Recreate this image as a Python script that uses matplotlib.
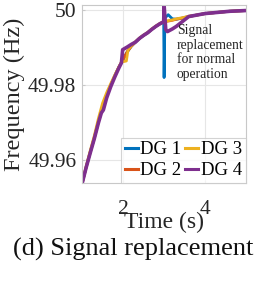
import matplotlib.pyplot as plt

plt.rcParams['font.family'] = ['Liberation Serif', 'DejaVu Serif']

# time axis (s) and frequency (Hz), one list per DG
t_dg1 = [1.0, 1.1, 1.2, 1.3, 1.4, 1.5, 1.6, 1.7, 1.8, 1.9, 2.0, 2.1, 2.2, 2.3,
         2.4, 2.5, 2.6, 2.7, 2.8, 2.9, 2.99, 3.0, 3.02, 3.1, 3.2, 3.3, 3.45,
         3.6, 3.8, 4.0, 4.3, 4.6, 5.0]
f_dg1 = [49.9538, 49.9582, 49.9622, 49.966, 49.9703, 49.974, 49.9772, 49.980,
         49.9825, 49.9848, 49.9868, 49.9888, 49.9903, 49.9914, 49.9924, 49.9932,
         49.9939, 49.9948, 49.9956, 49.9963, 49.9968, 49.982, 49.9978, 49.9987,
         49.9976, 49.9975, 49.9978, 49.9982, 49.9986, 49.999, 49.9993, 49.9996,
         49.9998]

t_dg2 = [1.0, 1.1, 1.2, 1.3, 1.4, 1.5, 1.6, 1.7, 1.8, 1.9, 2.0, 2.1, 2.2, 2.3,
         2.4, 2.5, 2.6, 2.7, 2.8, 2.9, 3.0, 3.1, 3.2, 3.3, 3.45, 3.6, 3.8, 4.0,
         4.3, 4.6, 5.0]
f_dg2 = [49.9538, 49.9582, 49.9622, 49.966, 49.9704, 49.9741, 49.9772, 49.980,
         49.9825, 49.9848, 49.9868, 49.9888, 49.9903, 49.9914, 49.9924, 49.9932,
         49.9939, 49.9948, 49.9956, 49.9963, 49.9968, 49.997, 49.9972, 49.9975,
         49.9978, 49.9982, 49.9986, 49.999, 49.9993, 49.9996, 49.9998]

t_dg3 = [1.0, 1.1, 1.2, 1.3, 1.4, 1.5, 1.6, 1.7, 1.8, 1.9, 1.96, 2.08, 2.12,
         2.2, 2.3, 2.4, 2.5, 2.6, 2.7, 2.8, 2.9, 3.0, 3.1, 3.2, 3.3, 3.45, 3.6,
         3.8, 4.0, 4.3, 4.6, 5.0]
f_dg3 = [49.9538, 49.9584, 49.9626, 49.9666, 49.9712, 49.9752, 49.978, 49.9804,
         49.9827, 49.9849, 49.9861, 49.9864, 49.9893, 49.9904, 49.9915, 49.9925,
         49.9933, 49.994, 49.9949, 49.9957, 49.9964, 49.9969, 49.9971, 49.9973,
         49.9976, 49.9979, 49.9983, 49.9986, 49.999, 49.9993, 49.9996, 49.9998]

t_dg4 = [1.0, 1.1, 1.2, 1.3, 1.4, 1.47, 1.52, 1.6, 1.7, 1.8, 1.9, 1.96, 1.99,
         2.1, 2.2, 2.3, 2.4, 2.5, 2.6, 2.7, 2.8, 2.9, 2.99, 3.0, 3.04, 3.08,
         3.2, 3.3, 3.45, 3.6, 3.8, 4.0, 4.3, 4.6, 5.0]
f_dg4 = [49.9538, 49.9581, 49.962, 49.9658, 49.9700, 49.9726, 49.9734, 49.9766,
         49.9796, 49.9822, 49.9846, 49.9859, 49.9894, 49.9901, 49.9908, 49.9914,
         49.9924, 49.9932, 49.9939, 49.9948, 49.9956, 49.9963, 49.9968, 50.0013,
         49.9948, 49.9942, 49.9949, 49.9956, 49.9969, 49.9982, 49.9986, 49.999,
         49.9993, 49.9996, 49.9998]

labels = ['DG 1', 'DG 2', 'DG 3', 'DG 4']
colors = ['#0072BD', '#D95319', '#EDB120', '#7E2F8E']

fig = plt.figure(figsize=(2.69, 3.05), dpi=100)
ax = fig.add_axes([0.305, 0.40, 0.61, 0.584])

ax.plot(t_dg1, f_dg1, color=colors[0], lw=2.0, label=labels[0])
ax.plot(t_dg2, f_dg2, color=colors[1], lw=2.0, label=labels[1])
ax.plot(t_dg3, f_dg3, color=colors[2], lw=2.0, label=labels[2])
ax.plot(t_dg4, f_dg4, color=colors[3], lw=2.6, label=labels[3])

ax.set_xlim(1, 5)
ax.set_ylim(49.954, 50.0013)
ax.set_xticks([2, 4])
ax.set_yticks([49.96, 49.98, 50])
ax.set_yticklabels(['49.96', '49.98', '50'])
ax.grid(True, color='#e6e6e6', lw=0.8)
ax.set_axisbelow(True)
for s in ax.spines.values():
    s.set_color('#c8c8c8')
    s.set_linewidth(0.8)
ax.tick_params(axis='both', direction='in', length=2, color='#c8c8c8',
               labelsize=15.5, labelcolor='#262626')
ax.tick_params(axis='x', pad=12)
ax.tick_params(axis='y', pad=4)

ax.set_xlabel('Time (s)', fontsize=17, color='#262626', labelpad=-5)
ax.set_ylabel('Frequency (Hz)', fontsize=17.5, color='#262626', labelpad=2)

ax.text(3.31, 49.9962, 'Signal\nreplacement\nfor normal\noperation',
        fontsize=9.8, va='top', ha='left', color='#262626', linespacing=1.15)

leg = ax.legend(handles=[ax.lines[0], ax.lines[1], ax.lines[2], ax.lines[3]],
                ncol=2, loc='lower right', fontsize=13.5, frameon=True,
                fancybox=False, borderpad=0.2, borderaxespad=0.0,
                handlelength=0.7, handletextpad=0.15, columnspacing=0.2,
                labelspacing=0.2)
leg.get_frame().set_edgecolor('#c8c8c8')
leg.get_frame().set_linewidth(0.8)
for h in leg.get_lines():
    h.set_linewidth(2.2)

fig.text(0.496, 0.183, '(d) Signal replacement', fontsize=19, ha='center',
         va='center', color='#111111')

fig.savefig('out.png', dpi=100)
